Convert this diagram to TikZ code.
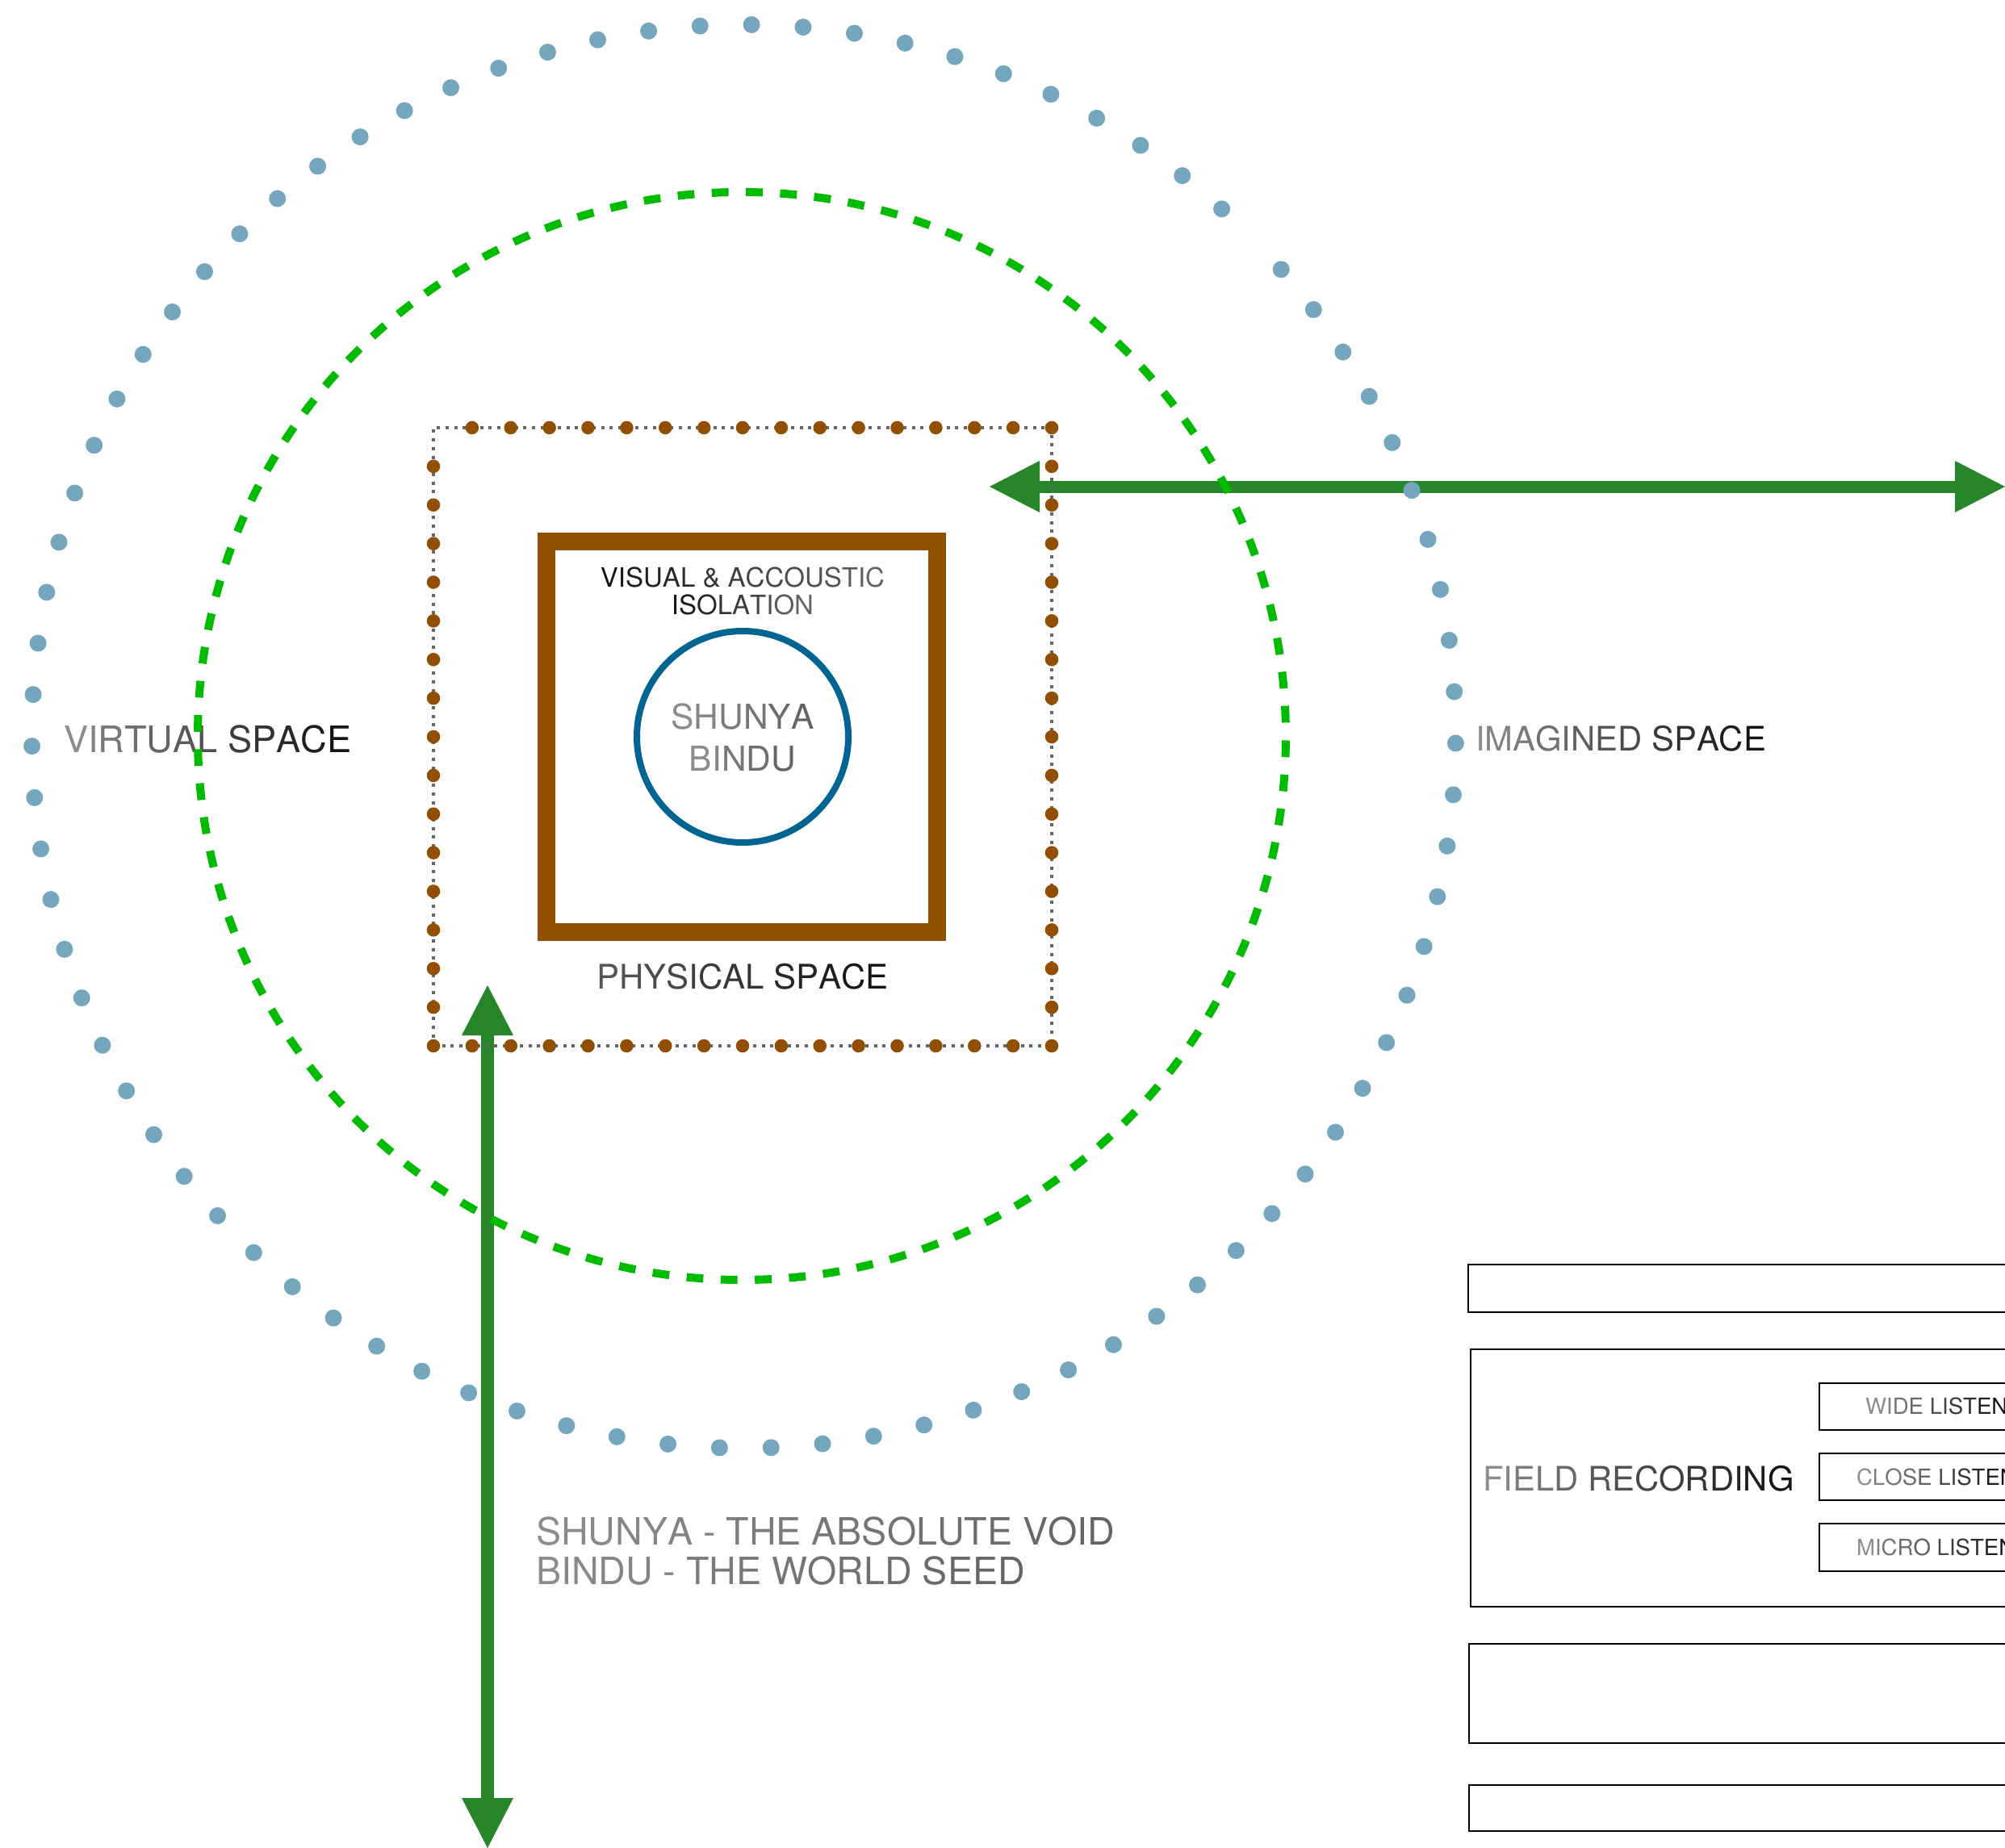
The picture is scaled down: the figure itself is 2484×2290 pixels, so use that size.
\documentclass[tikz,border=0pt]{standalone}
\usepackage{fontspec}
\setmainfont{TeX Gyre Heros}
\usetikzlibrary{arrows.meta}
\definecolor{dotblue}{HTML}{74A6BD}
\definecolor{dashgreen}{HTML}{00BB00}
\definecolor{arrgreen}{HTML}{27862A}
\definecolor{mybrown}{HTML}{934F00}
\definecolor{ringblue}{HTML}{006490}
\definecolor{sqgrey}{HTML}{666666}
\definecolor{tlight}{HTML}{8C8C8C}
\definecolor{tdark}{HTML}{141414}
\definecolor{tmid}{HTML}{646464}
\definecolor{tphys}{HTML}{555555}
\ExplSyntaxOn
\int_new:N \l_gt_i_int
\int_new:N \l_gt_n_int
\tl_new:N \l_gt_pct_tl
\NewDocumentCommand{\gradtext}{mmm}
  {
    \int_set:Nn \l_gt_n_int { \str_count:n {#3} }
    \int_zero:N \l_gt_i_int
    \str_map_inline:nn {#3}
      {
        \tl_set:Nx \l_gt_pct_tl
          { \int_eval:n { 100 - ( 100 * \l_gt_i_int ) / \int_max:nn {1} { \l_gt_n_int - 1 } } }
        \int_incr:N \l_gt_i_int
        { \color{#1!\l_gt_pct_tl!#2}\relax ##1 }
      }
  }
\ExplSyntaxOff
\tikzset{
  lbl/.style={inner sep=0pt, outer sep=0pt},
  garrow/.style={draw=arrgreen, line width=7.5pt,
    {Triangle[length=31pt,width=32pt,line width=0pt]}-{Triangle[length=31pt,width=32pt,line width=0pt]}},
  sqline/.style={draw=sqgrey, line width=2pt, dash pattern=on 2pt off 3.35pt, inner sep=0pt},
  bdot/.style={fill=mybrown},
  rdot/.style={fill=dotblue},
  gdash/.style={draw=dashgreen, line width=5pt, dash pattern=on 10.4pt off 10.775pt, dash phase=12.9pt},
  recbox/.style={draw=black, line width=1.2pt}
}
\begin{document}
\begin{tikzpicture}[x=0.5pt,y=-0.5pt]
\useasboundingbox (0,0) rectangle (2484,2290);
\clip (0,0) rectangle (2484,2290);
% arrows
\coordinate (hL) at (1226,603);
\coordinate (hR) at (2484,603);
\coordinate (vT) at (604,1221);
\coordinate (vB) at (604,2290);
\draw[garrow] (hL) -- (hR);
\draw[garrow, line width=8pt] (vT) -- (vB);
% labels
\node[lbl, anchor=base, font=\fontsize{16.5pt}{17pt}\selectfont] (iso1) at (920,727) {\gradtext{tdark}{tmid}{VISUAL & ACCOUSTIC}};
\node[lbl, anchor=base, font=\fontsize{16.5pt}{17pt}\selectfont] (iso2) at (920,761) {\gradtext{tdark}{tmid}{ISOLATION}};
\node[lbl, anchor=base, font=\fontsize{21.25pt}{26pt}\selectfont] (shunya) at (920,903) {\gradtext{tlight}{tmid}{SHUNYA}};
\node[lbl, anchor=base, font=\fontsize{21.25pt}{26pt}\selectfont] (bindu) at (920,955) {\gradtext{tlight}{tmid}{BINDU}};
\node[lbl, anchor=base west, font=\fontsize{22.6pt}{26pt}\selectfont] (virt) at (79,932) {\gradtext{tlight}{tdark}{VIRTUAL SPACE}};
\node[lbl, anchor=base west, font=\fontsize{20.9pt}{26pt}\selectfont] (imag) at (1828,930) {\gradtext{tlight}{tdark}{IMAGINED SPACE}};
\node[lbl, anchor=base, font=\fontsize{21pt}{26pt}\selectfont] (phys) at (920,1225) {\gradtext{tphys}{tdark}{PHYSICAL SPACE}};
\node[lbl, anchor=base west, font=\fontsize{23.3pt}{26pt}\selectfont] (void1) at (664,1914) {\gradtext{tlight}{tmid}{SHUNYA - THE ABSOLUTE VOID}};
\node[lbl, anchor=base west, font=\fontsize{23.3pt}{26pt}\selectfont] (void2) at (664,1963) {\gradtext{tlight}{tmid}{BINDU - THE WORLD SEED}};
% right boxes
\draw[recbox] (1819,1567) rectangle (2600,1626);
\draw[recbox] (1822,1672) rectangle (2600,1991);
\draw[recbox] (2254,1714) rectangle (2600,1772);
\draw[recbox] (2254,1801) rectangle (2600,1859);
\draw[recbox] (2254,1888) rectangle (2600,1947);
\draw[recbox] (1820,2037) rectangle (2600,2160);
\draw[recbox] (1820,2212) rectangle (2600,2269);
\node[lbl, anchor=base west, font=\fontsize{20.9pt}{24pt}\selectfont] (field) at (1837,1847) {\gradtext{tlight}{tdark}{FIELD RECORDING}};
\node[lbl, anchor=base west, font=\fontsize{13.8pt}{17pt}\selectfont] (wide) at (2311,1752) {\gradtext{tlight}{tdark}{WIDE LISTEN}};
\node[lbl, anchor=base west, font=\fontsize{13.8pt}{17pt}\selectfont] (close) at (2300,1840) {\gradtext{tlight}{tdark}{CLOSE LISTEN}};
\node[lbl, anchor=base west, font=\fontsize{13.8pt}{17pt}\selectfont] (micro) at (2300,1927) {\gradtext{tlight}{tdark}{MICRO LISTEN}};
% physical space dotted square
\node[sqline, minimum size=383pt] (physsq) at (920,913) {};
\foreach \k in {1,...,16} {
  \fill[bdot] (537+\k*47.875,530) circle[radius=4.15pt];
  \fill[bdot] (1303,530+\k*47.875) circle[radius=4.15pt];
  \fill[bdot] (1303-\k*47.875,1296) circle[radius=4.15pt];
}
\foreach \k in {1,...,15} {
  \fill[bdot] (537,1296-\k*47.875) circle[radius=4.15pt];
}
% isolation square
\node[draw=mybrown, line width=11pt, minimum size=242pt, inner sep=0pt] (isosq) at (919,912.5) {};
% core circle
\node[draw=ringblue, line width=4pt, circle, minimum size=131pt, inner sep=0pt] (core) at (920,913) {};
% imagined space dashed circle
\coordinate (GC) at (919,912);
\draw[gdash] (GC) circle[radius=337pt];
% virtual space dotted ring
\coordinate (RC) at (921.5,912.5);
\foreach \k [evaluate=\k as \a using 41.0-\k*4.155] in {0,...,85} {
  \fill[rdot] (RC) ++(\a:441pt) circle[radius=5.25pt];
}
\end{tikzpicture}
\end{document}
